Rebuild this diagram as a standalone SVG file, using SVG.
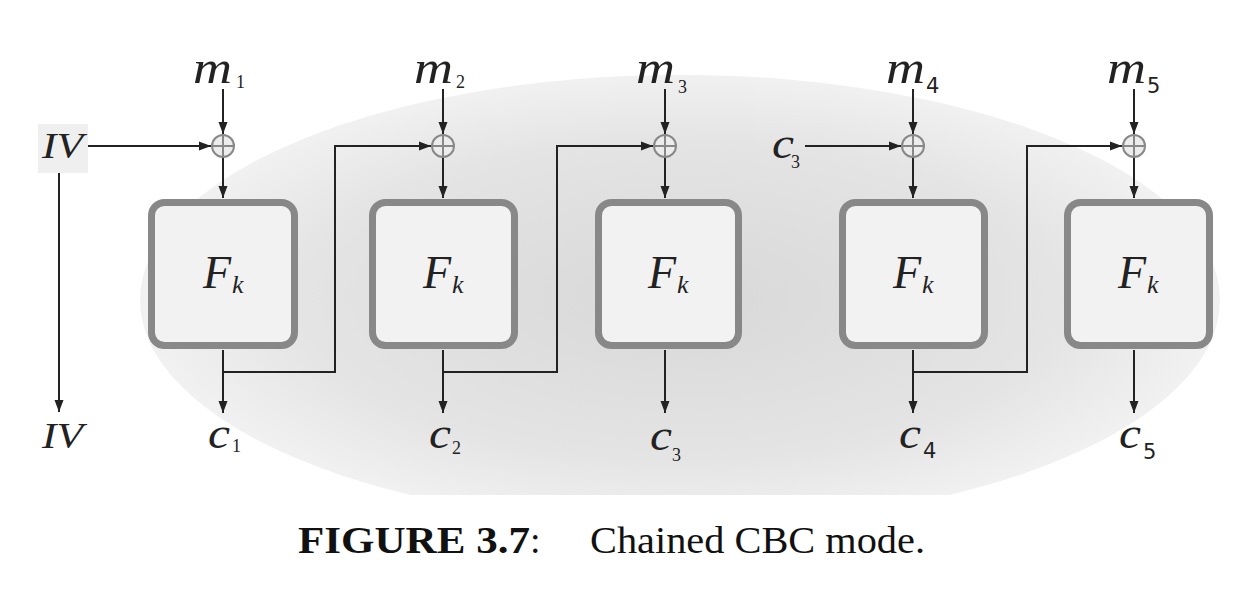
<svg xmlns="http://www.w3.org/2000/svg" width="1254" height="590" viewBox="0 0 1254 590">
<style>
.arr{stroke:#222;stroke-width:2;fill:none;marker-end:url(#ah)}
.box{fill:#f2f2f2;stroke:#888;stroke-width:7}
.xc{fill:#ececec;stroke:#888;stroke-width:2}
.xl{stroke:#888;stroke-width:2}
.mi{font-family:"Liberation Serif","Times New Roman",serif;font-style:italic;fill:#222}
.sub{font-family:"Liberation Serif","Times New Roman",serif;font-size:18px;fill:#222}
.subs{font-family:"DejaVu Sans","Liberation Sans",sans-serif;font-size:21px;fill:#222}
.cap{font-family:"Liberation Serif","Times New Roman",serif;font-size:38px;fill:#111}
</style>
<defs>
<marker id="ah" markerUnits="userSpaceOnUse" markerWidth="13" markerHeight="10" refX="12" refY="5" orient="auto">
<path d="M0,0.5 L12,5 L0,9.5 z" fill="#222"/>
</marker>
<radialGradient id="bg" cx="680" cy="300" r="540" gradientUnits="userSpaceOnUse" gradientTransform="translate(680 300) scale(1 0.42) translate(-680 -300)">
<stop offset="0" stop-color="#d8d8d8"/>
<stop offset="0.7" stop-color="#e4e4e4"/>
<stop offset="1" stop-color="#f1f1f1"/>
</radialGradient>
<clipPath id="clip"><rect x="0" y="0" width="1254" height="495"/></clipPath>
</defs>
<rect width="1254" height="590" fill="#fff"/>
<ellipse cx="680" cy="300" rx="540" ry="225" fill="url(#bg)" clip-path="url(#clip)"/>

<g id="iv-src">
<rect x="38" y="124" width="50" height="49" fill="#efefef"/>
<text class="mi" x="42" y="158" font-size="36" textLength="41" lengthAdjust="spacingAndGlyphs">IV</text>
</g>
<g id="iv-out"><text class="mi" x="42" y="448" font-size="36" textLength="41" lengthAdjust="spacingAndGlyphs">IV</text></g>

<g id="connectors">
<line class="arr" x1="88" y1="146" x2="211" y2="146"/>
<line class="arr" x1="59" y1="173" x2="59" y2="412"/>
<line class="arr" x1="223" y1="89" x2="223" y2="134"/>
<line class="arr" x1="443" y1="89" x2="443" y2="134"/>
<line class="arr" x1="665" y1="89" x2="665" y2="134"/>
<line class="arr" x1="913" y1="89" x2="913" y2="134"/>
<line class="arr" x1="1134" y1="89" x2="1134" y2="134"/>
<line class="arr" x1="223" y1="157" x2="223" y2="198"/>
<line class="arr" x1="443" y1="157" x2="443" y2="198"/>
<line class="arr" x1="665" y1="157" x2="665" y2="198"/>
<line class="arr" x1="913" y1="157" x2="913" y2="198"/>
<line class="arr" x1="1134" y1="157" x2="1134" y2="198"/>
<line class="arr" x1="223" y1="350" x2="223" y2="413"/>
<line class="arr" x1="443" y1="350" x2="443" y2="413"/>
<line class="arr" x1="665" y1="350" x2="665" y2="413"/>
<line class="arr" x1="913" y1="350" x2="913" y2="413"/>
<line class="arr" x1="1134" y1="350" x2="1134" y2="413"/>
<polyline class="arr" points="223,372 335,372 335,146 431,146"/>
<polyline class="arr" points="443,372 557,372 557,146 653,146"/>
<polyline class="arr" points="913,372 1027,372 1027,146 1122,146"/>
<line class="arr" x1="805" y1="146" x2="901" y2="146"/>
</g>

<g id="xor1"><circle class="xc" cx="223" cy="146" r="11"/><path class="xl" d="M212,146H234M223,135V157"/></g>
<g id="xor2"><circle class="xc" cx="443" cy="146" r="11"/><path class="xl" d="M432,146H454M443,135V157"/></g>
<g id="xor3"><circle class="xc" cx="665" cy="146" r="11"/><path class="xl" d="M654,146H676M665,135V157"/></g>
<g id="xor4"><circle class="xc" cx="913" cy="146" r="11"/><path class="xl" d="M902,146H924M913,135V157"/></g>
<g id="xor5"><circle class="xc" cx="1134" cy="146" r="11"/><path class="xl" d="M1123,146H1145M1134,135V157"/></g>

<g id="f1"><rect class="box" x="151.5" y="202.5" width="143" height="143" rx="13"/>
<text class="mi" x="203" y="288" font-size="46">F</text><text class="mi" x="232" y="293" font-size="26">k</text></g>
<g id="f2"><rect class="box" x="372.5" y="202.5" width="142" height="143" rx="13"/>
<text class="mi" x="423" y="288" font-size="46">F</text><text class="mi" x="452" y="293" font-size="26">k</text></g>
<g id="f3"><rect class="box" x="598.5" y="202.5" width="140" height="143" rx="13"/>
<text class="mi" x="648" y="288" font-size="46">F</text><text class="mi" x="677" y="293" font-size="26">k</text></g>
<g id="f4"><rect class="box" x="842.5" y="202.5" width="142" height="143" rx="13"/>
<text class="mi" x="893" y="288" font-size="46">F</text><text class="mi" x="922" y="293" font-size="26">k</text></g>
<g id="f5"><rect class="box" x="1067.5" y="202.5" width="142" height="143" rx="13"/>
<text class="mi" x="1118" y="288" font-size="46">F</text><text class="mi" x="1147" y="293" font-size="26">k</text></g>

<g id="m1"><text class="mi" x="193" y="83" font-size="46" textLength="39" lengthAdjust="spacingAndGlyphs">m</text><text class="sub" x="236" y="88">1</text></g>
<g id="m2"><text class="mi" x="414" y="83" font-size="46" textLength="39" lengthAdjust="spacingAndGlyphs">m</text><text class="sub" x="456" y="88">2</text></g>
<g id="m3"><text class="mi" x="636" y="83" font-size="46" textLength="39" lengthAdjust="spacingAndGlyphs">m</text><text class="sub" x="678" y="93">3</text></g>
<g id="m4"><text class="mi" x="886" y="83" font-size="46" textLength="39" lengthAdjust="spacingAndGlyphs">m</text><text class="subs" x="926" y="93">4</text></g>
<g id="m5"><text class="mi" x="1107" y="83" font-size="46" textLength="39" lengthAdjust="spacingAndGlyphs">m</text><text class="subs" x="1147" y="93">5</text></g>

<g id="c3-in"><text class="mi" x="772" y="158" font-size="44" textLength="22" lengthAdjust="spacingAndGlyphs">c</text><text class="sub" x="791" y="168">3</text></g>

<g id="c1"><text class="mi" x="208" y="448" font-size="44" textLength="22" lengthAdjust="spacingAndGlyphs">c</text><text class="sub" x="232" y="452">1</text></g>
<g id="c2"><text class="mi" x="429" y="448" font-size="44" textLength="22" lengthAdjust="spacingAndGlyphs">c</text><text class="sub" x="452" y="454">2</text></g>
<g id="c3"><text class="mi" x="650" y="450" font-size="44" textLength="22" lengthAdjust="spacingAndGlyphs">c</text><text class="sub" x="672" y="461">3</text></g>
<g id="c4"><text class="mi" x="899" y="448" font-size="44" textLength="22" lengthAdjust="spacingAndGlyphs">c</text><text class="subs" x="923" y="458">4</text></g>
<g id="c5"><text class="mi" x="1119" y="448" font-size="44" textLength="22" lengthAdjust="spacingAndGlyphs">c</text><text class="subs" x="1143" y="459">5</text></g>

<g id="caption">
<text class="cap" x="298" y="553" font-weight="bold" textLength="232" lengthAdjust="spacingAndGlyphs">FIGURE 3.7</text>
<text class="cap" x="530" y="553">:</text>
<text class="cap" x="590" y="553" textLength="335" lengthAdjust="spacingAndGlyphs">Chained CBC mode.</text>
</g>
</svg>
